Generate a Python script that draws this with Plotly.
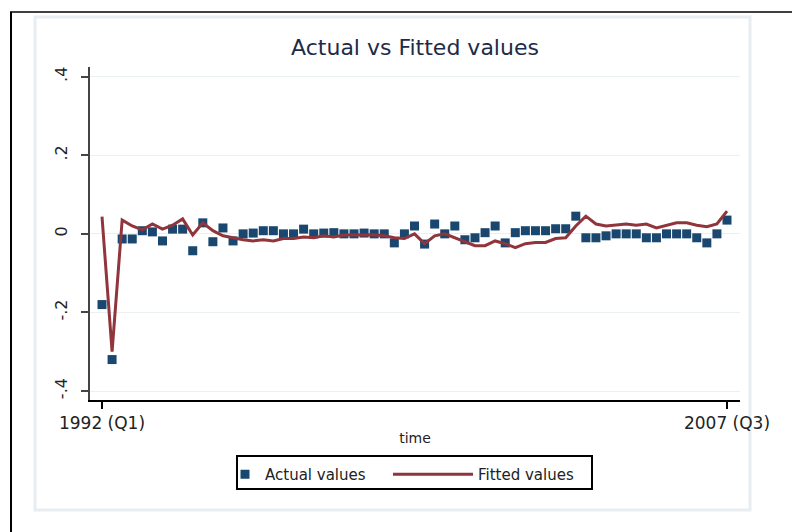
import plotly.graph_objects as go

# Quarterly sample 1992Q1 .. 2007Q3
quarters = [f"{y} (Q{q})" for y in range(1992, 2008) for q in range(1, 5)][:63]

actual = [-0.180, -0.320, -0.013, -0.013, 0.008, 0.005, -0.018, 0.012, 0.012, -0.043,
          0.028, -0.020, 0.015, -0.018, 0.000, 0.002, 0.008, 0.008, 0.000, 0.000,
          0.012, 0.000, 0.002, 0.003, 0.000, 0.000, 0.002, 0.000, 0.000, -0.023,
          0.000, 0.020, -0.026, 0.025, 0.000, 0.020, -0.015, -0.010, 0.003, 0.020,
          -0.023, 0.003, 0.008, 0.008, 0.008, 0.013, 0.013, 0.045, -0.010, -0.010,
          -0.005, 0.000, 0.000, 0.000, -0.010, -0.010, 0.000, 0.000, 0.000, -0.010,
          -0.023, 0.000, 0.035]

fitted = [0.044, -0.300, 0.035, 0.020, 0.010, 0.025, 0.012, 0.022, 0.038, -0.003,
          0.028, 0.008, -0.005, -0.010, -0.015, -0.018, -0.015, -0.018, -0.012, -0.012,
          -0.008, -0.010, -0.005, -0.008, -0.003, -0.003, -0.002, -0.002, -0.005, -0.010,
          -0.012, 0.000, -0.025, -0.005, 0.000, -0.010, -0.020, -0.030, -0.030, -0.018,
          -0.025, -0.035, -0.025, -0.022, -0.022, -0.012, -0.010, 0.020, 0.045, 0.025,
          0.020, 0.022, 0.025, 0.022, 0.025, 0.015, 0.022, 0.028, 0.028, 0.022,
          0.018, 0.025, 0.058]

y_ticks = [-0.4, -0.2, 0.0, 0.2, 0.4]
y_tick_text = ["-.4", "-.2", "0", ".2", ".4"]
x_ticks = [0, len(quarters) - 1]
x_tick_text = [quarters[0], quarters[-1]]

W, H = 794, 532
L, R, T, B = 90, 740, 67, 400  # plot area in pixels

t = list(range(len(quarters)))
FONT = "DejaVu Sans"
NAVY = "#1a476f"
MAROON = "#90353b"


def px(x):
    return (x - L) / (R - L)


def py(y):
    return (B - y) / (B - T)


fig = go.Figure()
fig.add_trace(go.Scatter(
    x=t, y=actual, mode="markers", name="Actual values",
    marker=dict(symbol="square", size=9, color=NAVY),
    legend="legend",
))
fig.add_trace(go.Scatter(
    x=t, y=fitted, mode="lines", name="Fitted values",
    line=dict(color=MAROON, width=3),
    legend="legend2",
))

shapes = [
    # light graph-region frame
    dict(type="rect", xref="paper", yref="paper", x0=px(35), x1=px(750), y0=py(510), y1=py(17),
         line=dict(color="#e8edf1", width=3), layer="below"),
    # outer black edges
    dict(type="line", xref="paper", yref="paper", x0=px(11), x1=px(11), y0=py(12), y1=py(533),
         line=dict(color="black", width=2)),
    dict(type="line", xref="paper", yref="paper", x0=px(10), x1=px(792), y0=py(12), y1=py(12),
         line=dict(color="black", width=1.5)),
    # legend frame
    dict(type="rect", xref="paper", yref="paper", x0=px(237), x1=px(592), y0=py(489), y1=py(456),
         line=dict(color="black", width=2)),
]

fig.update_layout(
    width=W, height=H,
    margin=dict(l=L, r=W - R, t=T, b=H - B, pad=0),
    paper_bgcolor="white", plot_bgcolor="white",
    font=dict(family=FONT, color="#222222"),
    title=dict(text="Actual vs Fitted values", x=0.5, xref="paper", xanchor="center",
               y=1 - 47 / H, yref="container", yanchor="middle",
               font=dict(size=22, color="#1e2b48", family=FONT)),
    xaxis=dict(range=[-1.19, 63.29], tickvals=x_ticks, ticktext=x_tick_text,
               showgrid=False, zeroline=False, showline=True, linecolor="black", linewidth=2,
               ticks="outside", ticklen=7, tickwidth=1.5, tickcolor="black",
               tickfont=dict(size=17, color="#222222"),
               title=dict(text="time", font=dict(size=14, color="#222222"), standoff=1)),
    yaxis=dict(range=[-0.4229, 0.4247], tickvals=y_ticks, ticktext=y_tick_text,
               tickangle=-90, showgrid=True, gridcolor="#eaf0f2", gridwidth=1.2,
               zeroline=False, showline=True, linecolor="#444444", linewidth=1.5,
               ticks="outside", ticklen=7, tickwidth=1.5, tickcolor="#444444",
               tickfont=dict(size=16, color="#222222"), ticklabelstandoff=8),
    legend=dict(orientation="h", x=px(225), y=py(458), xanchor="left", yanchor="top",
                bgcolor="rgba(0,0,0,0)", borderwidth=0, itemwidth=30,
                font=dict(size=15, color="#222222", family=FONT)),
    legend2=dict(orientation="h", x=px(388), y=py(458), xanchor="left", yanchor="top",
                 bgcolor="rgba(0,0,0,0)", borderwidth=0, itemwidth=80,
                 font=dict(size=15, color="#222222", family=FONT)),
    shapes=shapes,
    showlegend=True,
)

fig.write_html("out.html")
